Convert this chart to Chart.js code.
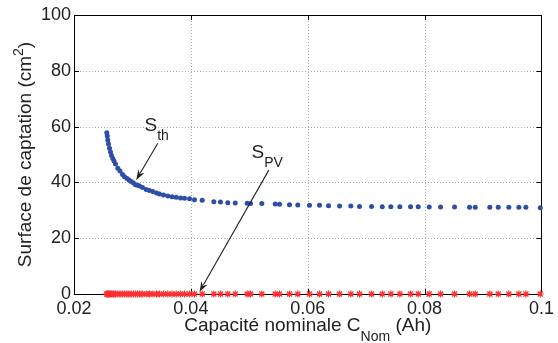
<html>
<script src="https://cdn.jsdelivr.net/npm/chart.js"></script>
<body style="margin:0;background:#fff">
<canvas id="chart" width="558" height="343"></canvas>
<script>
    // Capacité nominale (Ah)
    const capacite = [
        0.02561, 0.02570, 0.02578, 0.02590, 0.02608, 0.02625, 0.02642, 0.02664, 0.02685, 0.02710,
        0.02750, 0.02787, 0.02830, 0.02864, 0.02907, 0.02941, 0.02979, 0.03018, 0.03053, 0.03087,
        0.03121, 0.03172, 0.03236, 0.03292, 0.03349, 0.03412, 0.03463, 0.03532, 0.03605, 0.03677,
        0.03749, 0.03823, 0.03891, 0.03977, 0.04062, 0.04194, 0.04393, 0.04507, 0.04632, 0.04759,
        0.04964, 0.05021, 0.05214, 0.05443, 0.05517, 0.05688, 0.05830, 0.06030, 0.06202, 0.06356,
        0.06544, 0.06737, 0.06886, 0.07092, 0.07275, 0.07422, 0.07576, 0.07759, 0.07891, 0.08079,
        0.08273, 0.08512, 0.08769, 0.08866, 0.09116, 0.09260, 0.09441, 0.09613, 0.09733, 0.09979
    ];
    // S_th (cm2)
    const surfaceTh = [
        57.8, 56.6, 55.2, 53.8, 52.2, 50.9, 49.6, 48.6, 47.7, 46.6,
        45.1, 44.1, 42.8, 42.0, 41.4, 40.9, 40.3, 39.8, 39.2, 39.0,
        38.7, 38.2, 37.5, 37.1, 36.7, 36.2, 35.8, 35.5, 35.1, 34.9,
        34.7, 34.4, 34.3, 34.1, 33.8, 33.6, 33.1, 33.0, 32.7, 32.6,
        32.5, 32.4, 32.4, 32.3, 32.2, 32.0, 31.9, 31.8, 31.8, 31.6,
        31.5, 31.5, 31.4, 31.4, 31.3, 31.3, 31.3, 31.3, 31.3, 31.2,
        31.2, 31.2, 31.1, 31.1, 31.1, 31.1, 31.1, 31.1, 31.1, 30.9
    ];
    // S_PV (cm2)
    const surfacePV = [
        0, 0, 0, 0, 0, 0, 0, 0, 0, 0,
        0, 0, 0, 0, 0, 0, 0, 0, 0, 0,
        0, 0, 0, 0, 0, 0, 0, 0, 0, 0,
        0, 0, 0, 0, 0, 0, 0, 0, 0, 0,
        0, 0, 0, 0, 0, 0, 0, 0, 0, 0,
        0, 0, 0, 0, 0, 0, 0, 0, 0, 0,
        0, 0, 0, 0, 0, 0, 0, 0, 0, 0
    ];
    const xTicks = [0.02, 0.04, 0.06, 0.08, 0.1];
    const yTicks = [0, 20, 40, 60, 80, 100];

    const font = 'Liberation Sans, Arial, Helvetica, sans-serif';

    // annotations: texte + flèche (coordonnées données)
    const notes = [
        { main: 'S', sub: 'th', at: [0.03207, 58.4], subDrop: 9, from: [0.03434, 54.0], to: [0.03065, 40.9] },
        { main: 'S', sub: 'PV', at: [0.05038, 48.7], subDrop: 9, from: [0.05334, 44.4], to: [0.04148, 0.8] }
    ];

    function drawParts(ctx, x, y, parts) {
        let cx = x;
        parts.forEach(p => {
            ctx.font = p.size + 'px ' + font;
            ctx.fillText(p.text, cx, y + (p.dy || 0));
            cx += ctx.measureText(p.text).width;
        });
    }
    function partsWidth(ctx, parts) {
        let w = 0;
        parts.forEach(p => { ctx.font = p.size + 'px ' + font; w += ctx.measureText(p.text).width; });
        return w;
    }

    const frame = {
        id: 'frame',
        beforeDatasetsDraw(chart) {
            const { ctx, chartArea: a, scales: { x, y } } = chart;
            ctx.save();
            // grille pointillée
            ctx.strokeStyle = '#a8a8a8';
            ctx.lineWidth = 1;
            ctx.setLineDash([1, 2]);
            ctx.beginPath();
            xTicks.slice(1, -1).forEach(v => {
                const p = Math.round(x.getPixelForValue(v)) + 0.5;
                ctx.moveTo(p, a.top); ctx.lineTo(p, a.bottom);
            });
            yTicks.slice(1, -1).forEach(v => {
                const p = Math.round(y.getPixelForValue(v)) + 0.5;
                ctx.moveTo(a.left, p); ctx.lineTo(a.right, p);
            });
            ctx.stroke();
            ctx.setLineDash([]);

            ctx.strokeStyle = '#000';
            ctx.strokeRect(Math.round(a.left) + 0.5, Math.round(a.top) + 0.5, Math.round(a.right - a.left), Math.round(a.bottom - a.top));
            ctx.beginPath();
            xTicks.forEach(v => {
                const p = Math.round(x.getPixelForValue(v)) + 0.5;
                ctx.moveTo(p, a.bottom); ctx.lineTo(p, a.bottom - 5);
                ctx.moveTo(p, a.top); ctx.lineTo(p, a.top + 5);
            });
            yTicks.forEach(v => {
                const p = Math.round(y.getPixelForValue(v)) + 0.5;
                ctx.moveTo(a.left, p); ctx.lineTo(a.left + 5, p);
                ctx.moveTo(a.right, p); ctx.lineTo(a.right - 5, p);
            });
            ctx.stroke();
            ctx.restore();
        },
        afterDatasetsDraw(chart) {
            const { ctx, chartArea: a, scales: { x, y } } = chart;
            ctx.save();
            ctx.fillStyle = '#222';
            ctx.strokeStyle = '#222';
            ctx.textBaseline = 'alphabetic';
            ctx.textAlign = 'left';

            notes.forEach(n => {
                const tx = x.getPixelForValue(n.at[0]);
                const ty = y.getPixelForValue(n.at[1]);
                ctx.font = '19px ' + font;
                ctx.fillText(n.main, tx, ty);
                const w = ctx.measureText(n.main).width;
                ctx.font = '14px ' + font;
                ctx.fillText(n.sub, tx + w, ty + n.subDrop);

                const x0 = x.getPixelForValue(n.from[0]), y0 = y.getPixelForValue(n.from[1]);
                const x1 = x.getPixelForValue(n.to[0]), y1 = y.getPixelForValue(n.to[1]);
                const ang = Math.atan2(y1 - y0, x1 - x0);
                const hl = 10, hw = 3.5;
                ctx.lineWidth = 1.1;
                ctx.beginPath();
                ctx.moveTo(x0, y0);
                ctx.lineTo(x1 - hl * Math.cos(ang) * 0.8, y1 - hl * Math.sin(ang) * 0.8);
                ctx.stroke();
                ctx.beginPath();
                ctx.moveTo(x1, y1);
                ctx.lineTo(x1 - hl * Math.cos(ang) + hw * Math.sin(ang), y1 - hl * Math.sin(ang) - hw * Math.cos(ang));
                ctx.lineTo(x1 - hl * Math.cos(ang) * 0.7, y1 - hl * Math.sin(ang) * 0.7);
                ctx.lineTo(x1 - hl * Math.cos(ang) - hw * Math.sin(ang), y1 - hl * Math.sin(ang) + hw * Math.cos(ang));
                ctx.closePath();
                ctx.fill();
            });

            // titres des axes
            const xParts = [
                { text: 'Capacité nominale C', size: 19 },
                { text: 'Nom', size: 14, dy: 10 },
                { text: ' (Ah)', size: 19 }
            ];
            const xw = partsWidth(ctx, xParts);
            drawParts(ctx, (a.left + a.right) / 2 - xw / 2, 331, xParts);

            const yParts = [
                { text: 'Surface de captation (cm', size: 19 },
                { text: '2', size: 14, dy: -8 },
                { text: ')', size: 19 }
            ];
            const yw = partsWidth(ctx, yParts);
            ctx.translate(31, (a.top + a.bottom) / 2);
            ctx.rotate(-Math.PI / 2);
            drawParts(ctx, -yw / 2, 0, yParts);
            ctx.restore();
        }
    };

    const config = {
        type: 'scatter',
        data: {
            datasets: [
                {
                    label: 'S_th',
                    data: capacite.map((c, i) => ({ x: c, y: surfaceTh[i] })),
                    pointStyle: 'circle',
                    pointRadius: 2.5,
                    backgroundColor: '#2c4ea8',
                    borderWidth: 0,
                    clip: false
                },
                {
                    label: 'S_PV',
                    data: capacite.map((c, i) => ({ x: c, y: surfacePV[i] })),
                    pointStyle: 'star',
                    pointRadius: 3.5,
                    borderColor: '#ff3030',
                    backgroundColor: '#ff3030',
                    borderWidth: 1.2,
                    clip: false
                }
            ]
        },
        options: {
            responsive: false,
            animation: false,
            layout: { padding: { left: 0, top: 15, right: 16, bottom: 0 } },
            plugins: { legend: { display: false }, tooltip: { enabled: false } },
            scales: {
                x: {
                    type: 'linear',
                    min: 0.02,
                    max: 0.1,
                    afterBuildTicks: s => { s.ticks = xTicks.map(v => ({ value: v })); },
                    afterFit: s => { s.height = 49; },
                    grid: { display: false, drawTicks: false },
                    border: { display: false },
                    ticks: {
                        padding: 4,
                        color: '#222',
                        font: { family: font, size: 18 },
                        maxRotation: 0,
                        callback: v => String(v)
                    }
                },
                y: {
                    type: 'linear',
                    min: 0,
                    max: 100,
                    afterBuildTicks: s => { s.ticks = yTicks.map(v => ({ value: v })); },
                    afterFit: s => { s.width = 74; },
                    grid: { display: false, drawTicks: false },
                    border: { display: false },
                    ticks: {
                        padding: 3,
                        color: '#222',
                        font: { family: font, size: 18 },
                        callback: v => String(v)
                    }
                }
            }
        },
        plugins: [frame]
    };

    new Chart(document.getElementById('chart'), config);
</script>
</body>
</html>
